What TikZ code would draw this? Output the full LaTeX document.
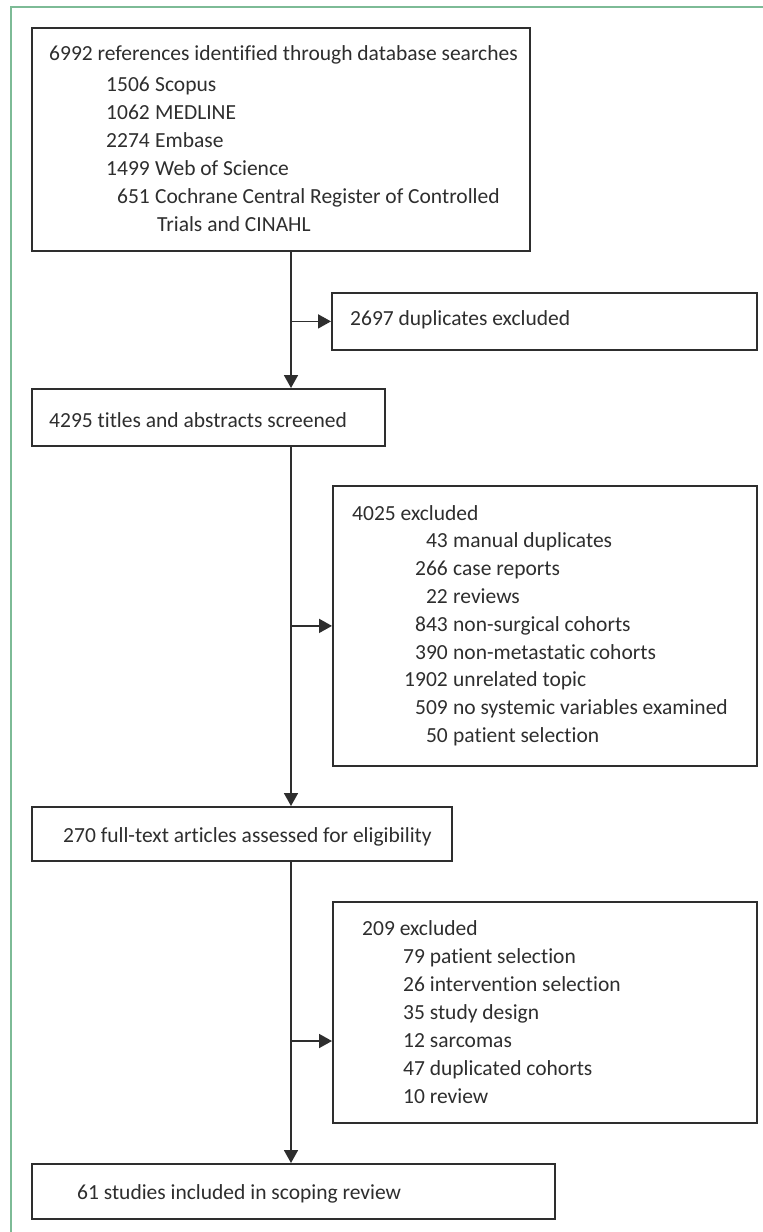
\documentclass[tikz,border=0pt]{standalone}
\usepackage{fontspec}
\setmainfont{Carlito}[Ligatures=NoCommon]
\usetikzlibrary{arrows.meta}
\definecolor{framegreen}{HTML}{7DBB96}
\definecolor{ink}{HTML}{2E2E2E}
\begin{document}
\begin{tikzpicture}[x=1pt,y=-1pt,
  box/.style={draw=ink, line width=1.8pt, rectangle, inner sep=0pt, anchor=north west},
  txt/.style={inner sep=0pt, text=ink, font=\fontsize{21.5}{28}\selectfont},
  tl/.style={txt, anchor=base west},
  tr/.style={txt, anchor=base east},
  conn/.style={draw=ink, line width=1.8pt},
  arr/.style={conn, -{Triangle[width=14pt,length=13pt]}}]
\fill[white] (0,0) rectangle (763,1232);
\useasboundingbox (0,0) rectangle (763,1232);
\draw[framegreen, line width=2pt] (11,1232) -- (11,7) -- (763,7);

% boxes
\node[box, minimum width=498pt, minimum height=223pt] (b1) at (31,27) {};
\node[box, minimum width=425pt, minimum height=57pt] (dup) at (331,292) {};
\node[box, minimum width=353pt, minimum height=57pt] (b2) at (31,388) {};
\node[box, minimum width=424pt, minimum height=280pt] (ex1) at (332,485) {};
\node[box, minimum width=420pt, minimum height=54pt] (b4) at (31,806) {};
\node[box, minimum width=424pt, minimum height=221pt] (ex2) at (332,901) {};
\node[box, minimum width=523pt, minimum height=55pt] (b6) at (31,1163) {};

% texts
\node[tl] (t1) at (49,60) {6992 references identified through database searches};
\foreach \n/\l/\y [count=\i] in {1506/Scopus/91, 1062/MEDLINE/119, 2274/Embase/147, 1499/Web of Science/175, 651/Cochrane Central Register of Controlled/203}{
  \node[tr] (t1n\i) at (150,\y) {\n};
  \node[tl] (t1l\i) at (155,\y) {\l};
}
\node[tl] (t1c) at (157,231) {Trials and CINAHL};

\node[tl] (tdup) at (350,325) {2697 duplicates excluded};
\node[tl] (t2) at (49,427) {4295 titles and abstracts screened};

\node[tl] (t3) at (352,520) {4025 excluded};
\foreach \n/\l [count=\i] in {43/manual duplicates, 266/case reports, 22/reviews, 843/non-surgical cohorts, 390/non-metastatic cohorts, 1902/unrelated topic, 509/no systemic variables examined, 50/patient selection}{
  \node[tr] (t3n\i) at (448,520+27.8*\i) {\n};
  \node[tl] (t3l\i) at (453,520+27.8*\i) {\l};
}

\node[tl] (t4) at (63,842) {270 full-text articles assessed for eligibility};

\node[tl] (t5) at (362,935) {209 excluded};
\foreach \l [count=\i] in {79 patient selection, 26 intervention selection, 35 study design, 12 sarcomas, 47 duplicated cohorts, 10 review}{
  \node[tl] (t5l\i) at (403,935+28*\i) {\l};
}

\node[tl] (t6) at (77,1199) {61 studies included in scoping review};

% connectors
\coordinate (trunk) at (291,0);
\coordinate (j5) at (291,1041);
\draw[arr] (b1.south -| trunk) -- (b2.north -| trunk);
\draw[arr] (trunk |- dup.west) -- (dup.west);
\draw[arr] (b2.south -| trunk) -- (b4.north -| trunk);
\draw[arr] (trunk |- ex1.west) -- (ex1.west);
\draw[arr] (b4.south -| trunk) -- (b6.north -| trunk);
\draw[arr] (j5) -- (j5 -| ex2.west);
\end{tikzpicture}
\end{document}
